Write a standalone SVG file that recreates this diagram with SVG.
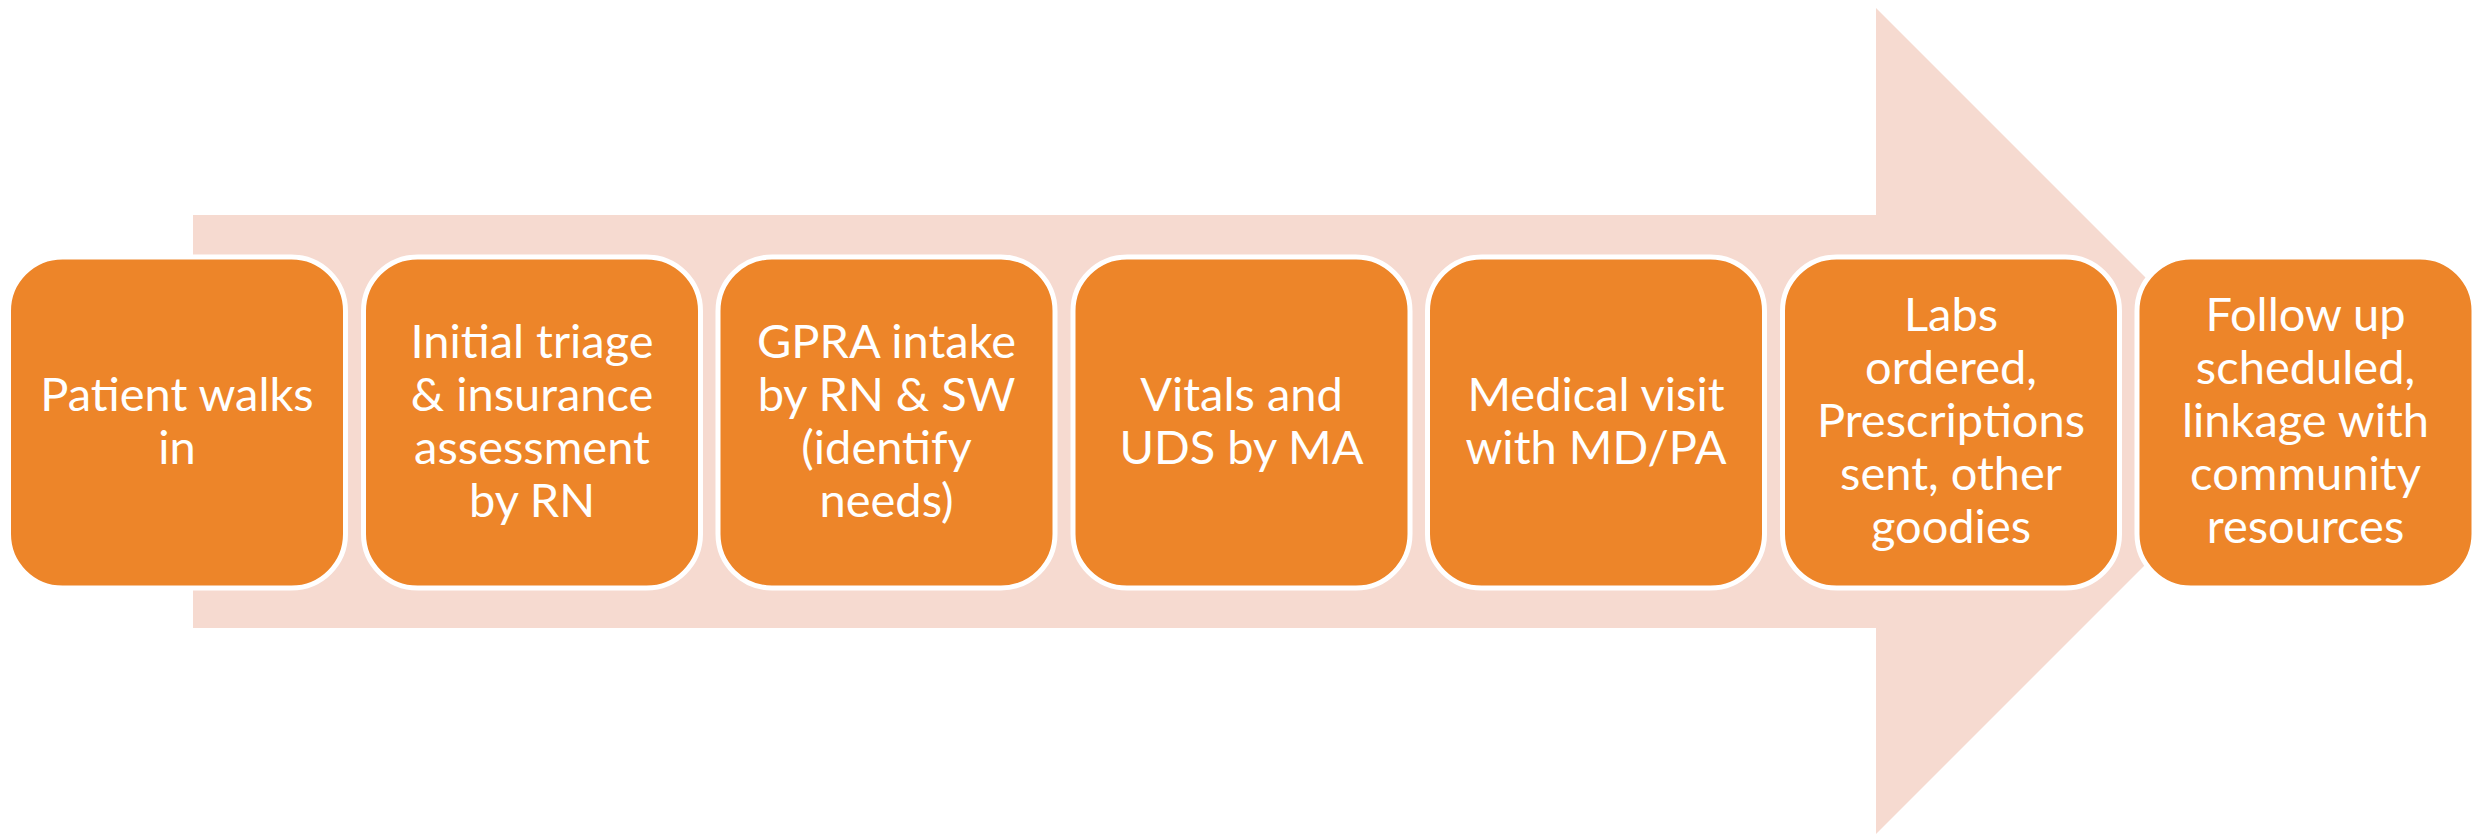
<svg xmlns="http://www.w3.org/2000/svg" width="2476" height="836" viewBox="0 0 2476 836">
  <style>
    .step rect { fill: #ED8529; stroke: #FFFFFF; stroke-width: 5; }
    .step text { fill: #FFFFFF; font-family: Lato, "Open Sans", "Liberation Sans", sans-serif; font-size: 47px; text-anchor: middle; }
  </style>
  <rect width="2476" height="836" fill="#FFFFFF"/>

  <!-- background block arrow -->
  <g id="connectors">
    <polygon points="193,215 1876,215 1876,8 2289,421 1876,834 1876,628 193,628" fill="#F6DAD0"/>
  </g>

  <g id="step1" class="step">
    <rect x="8.5" y="257" width="337" height="331" rx="54"/>
    <text x="177" y="411">Patient walks</text>
    <text x="177" y="464">in</text>
  </g>

  <g id="step2" class="step">
    <rect x="363.5" y="257" width="337" height="331" rx="54"/>
    <text x="532" y="358">Initial triage</text>
    <text x="532" y="411">&amp; insurance</text>
    <text x="532" y="464">assessment</text>
    <text x="532" y="517">by RN</text>
  </g>

  <g id="step3" class="step">
    <rect x="718" y="257" width="337" height="331" rx="54"/>
    <text x="886.5" y="358">GPRA intake</text>
    <text x="886.5" y="411">by RN &amp; SW</text>
    <text x="886.5" y="464">(identify</text>
    <text x="886.5" y="517">needs)</text>
  </g>

  <g id="step4" class="step">
    <rect x="1073" y="257" width="337" height="331" rx="54"/>
    <text x="1241.5" y="411">Vitals and</text>
    <text x="1241.5" y="464">UDS by MA</text>
  </g>

  <g id="step5" class="step">
    <rect x="1427.5" y="257" width="337" height="331" rx="54"/>
    <text x="1596" y="411">Medical visit</text>
    <text x="1596" y="464">with MD/PA</text>
  </g>

  <g id="step6" class="step">
    <rect x="1782.5" y="257" width="337" height="331" rx="54"/>
    <text x="1951" y="331">Labs</text>
    <text x="1951" y="384">ordered,</text>
    <text x="1951" y="437">Prescriptions</text>
    <text x="1951" y="490">sent, other</text>
    <text x="1951" y="543">goodies</text>
  </g>

  <g id="step7" class="step">
    <rect x="2137" y="257" width="337" height="331" rx="54"/>
    <text x="2305.5" y="331">Follow up</text>
    <text x="2305.5" y="384">scheduled,</text>
    <text x="2305.5" y="437">linkage with</text>
    <text x="2305.5" y="490">community</text>
    <text x="2305.5" y="543">resources</text>
  </g>
</svg>
